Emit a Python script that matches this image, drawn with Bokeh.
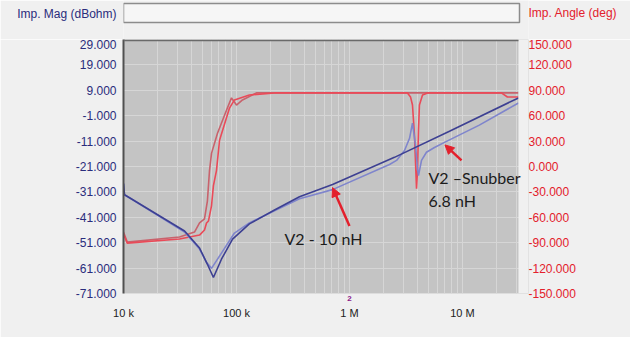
from bokeh.plotting import figure
from bokeh.layouts import column
from bokeh.models import (Range1d, LinearAxis, LogAxis, FixedTicker, NumeralTickFormatter,
                          Label, Arrow, NormalHead, BoxAnnotation)
from bokeh.embed import file_html
from bokeh.resources import INLINE

# ---------------- data ----------------
FREQ_MAG_10NH = [10000, 10200, 11300, 34700, 47100, 55300, 62500, 73600, 92300, 130000,
                 217000, 361000, 708000, 2.50e6, 7.67e6, 3.13e7]
MAG_10NH = [-27.7, -32.1, -33.3, -46.4, -53.1, -59.5, -64.7, -57.5, -49.6, -43.6,
            -38.1, -32.9, -28.1, -17.4, -7.1, 6.0]

FREQ_MAG_SNUB = [10000, 10200, 11300, 34700, 47100, 54300, 60100, 73600, 95900, 130000,
                 361000, 708000, 2.26e6, 2.61e6, 3.07e6, 3.40e6, 3.61e6, 3.84e6, 4.00e6,
                 4.08e6, 4.34e6, 4.80e6, 5.65e6, 6.93e6, 1.41e7, 3.13e7]
MAG_SNUB = [-27.7, -32.1, -33.3, -46.8, -53.5, -58.7, -61.1, -55.1, -47.2, -43.2,
            -33.7, -30.1, -20.2, -18.6, -14.7, -9.9, -3.9, -12.7, -21.8,
            -24.6, -18.6, -15.4, -13.5, -11.5, -4.7, 4.0]

FREQ_ANG_10NH = [10000, 10800, 31300, 42500, 47100, 52100, 55300, 57700, 60100, 67900,
                 81700, 90300, 100000, 113000, 150000, 361000, 3.13e7]
ANG_10NH = [-77.4, -89.3, -83.3, -77.4, -66.7, -61.9, -40.5, -4.8, 15.5, 39.3,
            66.7, 81.0, 72.6, 78.6, 86.9, 86.9, 86.9]

FREQ_ANG_SNUB = [10000, 10800, 31300, 47100, 52100, 54300, 56500, 60100, 62500, 66500,
                 70800, 86700, 95900, 130000, 217000, 2.77e6, 3.26e6, 3.47e6, 3.61e6,
                 3.76e6, 3.92e6, 4.00e6, 4.08e6, 4.16e6, 4.43e6, 4.90e6, 2.21e7, 2.50e7, 3.13e7]
ANG_SNUB = [-79.8, -90.5, -85.7, -81.0, -75.0, -66.7, -64.3, -46.4, -22.6, -4.8,
            31.0, 69.0, 78.6, 84.5, 86.9, 86.9, 86.9, 82.1, 72.6,
            36.9, -26.2, -4.8, 42.9, 72.6, 84.5, 86.9, 86.9, 82.1, 82.1]

X_TICKS = [1e4, 1e5, 1e6, 1e7]
X_TICK_LABELS = ["10 k", "100 k", "1 M", "10 M"]
MARKER_TICKS = [1e6]
MARKER_LABELS = ["2"]
MAG_TICKS = [-71, -61, -51, -41, -31, -21, -11, -1, 9, 19, 29]
ANG_TICKS = [-150, -120, -90, -60, -30, 0, 30, 60, 90, 120, 150]
X_MIN, X_EDGE, X_FRAME_END = 1e4, 3.13e7, 3.84e7

LEFT_TITLE = "Imp. Mag (dBohm)"
RIGHT_TITLE = "Imp. Angle (deg)"
NOTE_10NH = "V2 - 10 nH"
NOTE_SNUB_1 = "V2 \u2013Snubber"
NOTE_SNUB_2 = "6.8 nH"
NOTE_10NH_POS = (266000, -49.2)
NOTE_SNUB_POS = (5.0e6, -25.4)
NOTE_SNUB2_POS = (5.0e6, -34.5)
ARROW_10NH = (1.0e6, -44.4, 7.08e5, -29.3)
ARROW_SNUB = (9.8e6, -18.6, 7.0e6, -12.5)

# ---------------- style ----------------
NAVY = "#2a2c7c"
RED = "#e3202c"
BG = "#f0f0f0"
FONT = "Liberation Sans"


def plain_axis(ax, color, size="12px", standoff=0):
    ax.major_label_text_font = FONT
    ax.major_label_text_font_size = size
    ax.major_label_text_color = color
    ax.major_label_standoff = standoff
    ax.major_tick_out = 0
    ax.major_tick_in = 0
    ax.minor_tick_out = 0
    ax.minor_tick_in = 0
    ax.major_tick_line_color = None
    ax.minor_tick_line_color = None
    ax.axis_line_color = None


# ---------- header strip (frame aligned with the chart frame) ----------
hdr = figure(width=630, height=39, frame_width=405, frame_height=39,
             x_range=Range1d(123, 528), y_range=Range1d(39, 0),
             min_border_left=123, min_border_right=102, min_border_top=0, min_border_bottom=0,
             output_backend="svg", toolbar_location=None,
             background_fill_color=BG, border_fill_color=BG)
hdr.outline_line_color = None
hdr.xaxis.visible = False
hdr.grid.visible = False
hdr.quad(left=[123], right=[519], top=[3], bottom=[22], fill_color="#f6f6f6",
         line_color="#8c8c8c", line_width=1.5)
hl = hdr.yaxis[0]
hl.ticker = FixedTicker(ticks=[13])
hl.major_label_overrides = {13: LEFT_TITLE}
plain_axis(hl, NAVY, standoff=7)
hr = LinearAxis(ticker=FixedTicker(ticks=[12]))
hr.major_label_overrides = {12: RIGHT_TITLE}
plain_axis(hr, RED, standoff=0)
hdr.add_layout(hr, "right")

# ---------- main chart ----------
p = figure(width=630, height=298, frame_width=405, frame_height=254,
           x_axis_type="log", x_range=Range1d(X_MIN, X_FRAME_END), y_range=Range1d(-71, 29),
           output_backend="svg", toolbar_location=None,
           min_border_left=123, min_border_right=102, min_border_top=0, min_border_bottom=44,
           background_fill_color="#c4c4c4", border_fill_color=BG)
p.outline_line_color = None
p.extra_y_ranges = {"angle": Range1d(-150, 150)}

xa = p.xaxis[0]
xa.ticker = FixedTicker(ticks=X_TICKS,
                        minor_ticks=[k * 10 ** e for e in range(4, 8) for k in range(2, 10)])
xa.major_label_overrides = {t: l for t, l in zip(X_TICKS, X_TICK_LABELS)}
plain_axis(xa, "#222222", size="11px", standoff=3)

ma = LogAxis(ticker=FixedTicker(ticks=MARKER_TICKS))
ma.major_label_overrides = {t: l for t, l in zip(MARKER_TICKS, MARKER_LABELS)}
plain_axis(ma, "#8b1a8b", size="8px", standoff=2)
ma.major_label_text_font_style = "bold"
p.below = [ma, xa]

ya = p.yaxis[0]
ya.ticker = FixedTicker(ticks=MAG_TICKS)
ya.formatter = NumeralTickFormatter(format="0.000")
plain_axis(ya, NAVY, standoff=7)
ya.axis_line_color = "#505050"
ya.axis_line_width = 2

ra = LinearAxis(y_range_name="angle", ticker=FixedTicker(ticks=ANG_TICKS),
                formatter=NumeralTickFormatter(format="0.000"))
plain_axis(ra, RED, standoff=0)
p.add_layout(ra, "right")

p.xgrid.grid_line_color = "#d6d6d6"
p.xgrid.minor_grid_line_color = "#d6d6d6"
p.ygrid.grid_line_color = "#d6d6d6"
p.ygrid.ticker = FixedTicker(ticks=MAG_TICKS)

p.line(FREQ_ANG_10NH, ANG_10NH, y_range_name="angle", line_color="#c8626c", line_width=1.6)
p.line(FREQ_ANG_SNUB, ANG_SNUB, y_range_name="angle", line_color="#ea4a58", line_width=1.6)
p.line(FREQ_MAG_SNUB, MAG_SNUB, line_color="#7f85cc", line_width=1.6)
p.line(FREQ_MAG_10NH, MAG_10NH, line_color="#3d4092", line_width=1.6)

# the plotted area ends at X_EDGE; the rest of the frame is page background
p.add_layout(BoxAnnotation(left=X_EDGE, fill_color=BG, fill_alpha=1.0, line_color=None))
# dark top rim of the plotted area
p.add_layout(BoxAnnotation(left=X_MIN, right=X_EDGE, top=29, bottom=28.3,
                           fill_color="#6a6a6a", fill_alpha=1.0, line_color=None))

for (x0, y0, x1, y1) in (ARROW_10NH, ARROW_SNUB):
    p.add_layout(Arrow(end=NormalHead(size=9, fill_color=RED, line_color=RED),
                       x_start=x0, y_start=y0, x_end=x1, y_end=y1,
                       line_color=RED, line_width=2.5))

for txt, (x, y) in ((NOTE_10NH, NOTE_10NH_POS), (NOTE_SNUB_1, NOTE_SNUB_POS),
                    (NOTE_SNUB_2, NOTE_SNUB2_POS)):
    p.add_layout(Label(x=x, y=y, text=txt, text_font="Lato", text_font_size="16px",
                       text_color="#1c1c1c", text_baseline="middle", text_align="left"))

layout = column(hdr, p, spacing=0)
open("out.html", "w").write(file_html(layout, INLINE))
